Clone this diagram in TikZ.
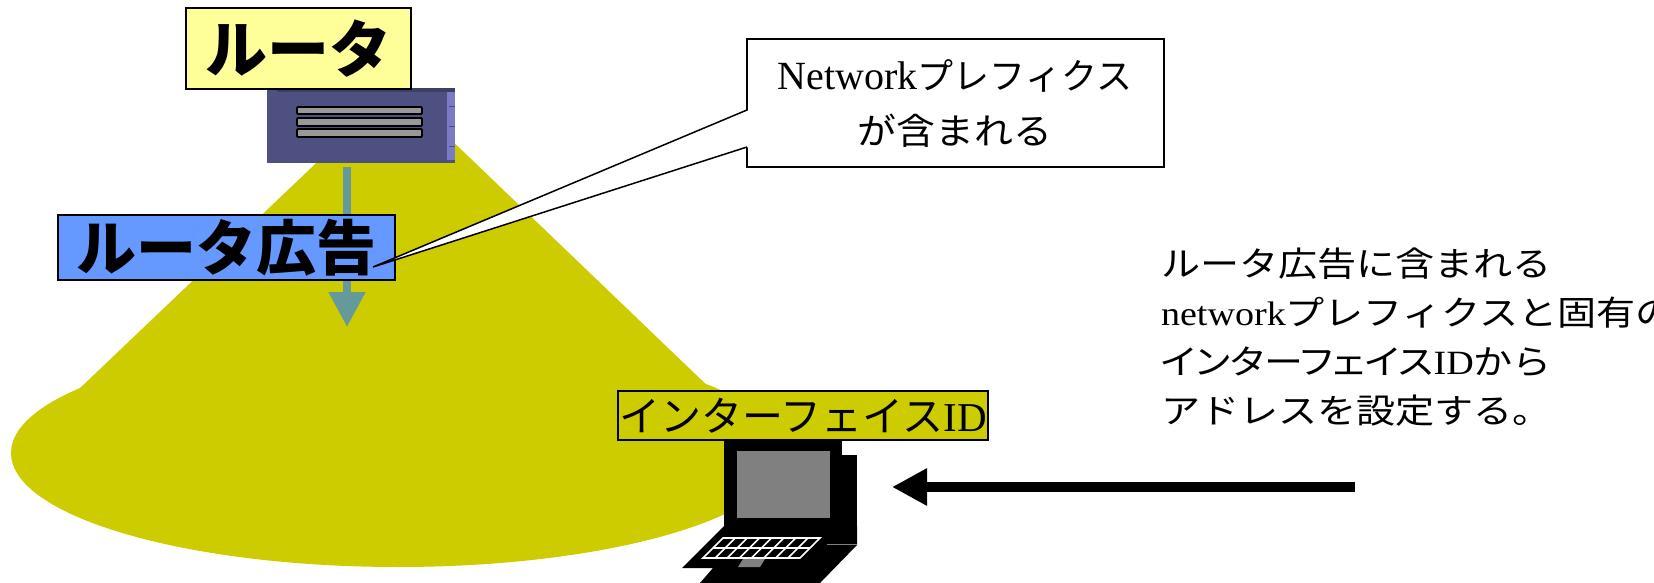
\documentclass[tikz,border=0pt]{standalone}
\usepackage{fontspec}
\usetikzlibrary{arrows.meta}
% Japanese gothic and Times-like Latin, with widened variants
\newfontfamily\jp{Noto Sans CJK JP}
\newfontfamily\jpm[FakeStretch=1.08]{Noto Sans CJK JP}
\newfontfamily\jpw[FakeStretch=1.15]{Noto Sans CJK JP}
\newfontfamily\jpp[FakeStretch=1.15,RawFeature=+palt]{Noto Sans CJK JP}
\newfontfamily\tm{Liberation Serif}
\newfontfamily\tmw[FakeStretch=1.12]{Liberation Serif}

\definecolor{conecol}{HTML}{CCCC00}
\definecolor{arrowteal}{HTML}{669999}
\definecolor{routerbody}{HTML}{4D5080}
\definecolor{routertop}{HTML}{3C3F66}
\definecolor{routerside}{HTML}{7B7BC4}
\definecolor{slotgray}{HTML}{999999}
\definecolor{labelyellow}{HTML}{FFFF99}
\definecolor{advblue}{HTML}{6699FF}
\definecolor{screengray}{HTML}{808080}

\tikzset{
  labelbox/.style={draw=black, line width=1pt, inner sep=0pt},
  plaintext/.style={inner sep=0pt, outer sep=0pt},
  righttext/.style={plaintext, anchor=base west, font=\fontsize{17pt}{17pt}\selectfont},
  callouttext/.style={plaintext, anchor=base, font=\fontsize{18pt}{18pt}\selectfont},
  slot/.style={draw=black, line width=0.9pt, fill=slotgray, rounded corners=0.5pt},
}

\begin{document}
\begin{tikzpicture}[x=0.5pt, y=-0.5pt]
\useasboundingbox (0,0) rectangle (1654,583);
\clip (0,0) rectangle (1654,583);

% coverage area of the router advertisement
\fill[conecol] (396,87) -- (78,390) -- (714,392) -- cycle;
\fill[conecol] (398,453) ellipse [x radius=193.5pt, y radius=57pt];

% advertisement direction arrow
\coordinate (advtop) at (347,167);
\coordinate (advtip) at (347,327);
\draw[arrowteal, line width=4pt, -{Triangle[length=17.5pt,width=17.5pt]}] (advtop) -- (advtip);

% router device
\node[fill=routerbody, minimum width=94pt, minimum height=37.5pt, inner sep=0pt] (router) at (361,125.5) {};
\fill[routertop] (277,88) rectangle (455,92);
\fill[routerside] (447,92) rectangle (455,160);
\foreach \yy in {107,127,147} \draw[routerbody, line width=0.5pt] (449,\yy) -- (455,\yy);
\draw[slot] (297,107) rectangle (422,114);
\draw[slot] (297,118) rectangle (422,126);
\draw[slot] (297,129) rectangle (422,137);

% title of the router
\node[labelbox, fill=labelyellow, minimum width=112.5pt, minimum height=40.5pt,
      font=\jp\bfseries\fontsize{31pt}{31pt}\selectfont] (rtitle) at (298.5,48.5) {ルータ};

% router advertisement label
\node[labelbox, fill=advblue, minimum width=168.5pt, minimum height=32.5pt,
      font=\jp\bfseries\fontsize{30pt}{30pt}\selectfont] (adv) at (226.5,247.5) {ルータ広告};

% callout with its tail
\node[draw=black, line width=0.75pt, fill=white, minimum width=208.5pt, minimum height=64pt, inner sep=0pt] (callout) at (955.5,103) {};
\coordinate (tailA) at (747,110);
\coordinate (tailB) at (747,147);
\coordinate (tailtip) at (373,267);
\fill[white] ([xshift=1pt]tailA) -- (tailtip) -- ([xshift=1pt]tailB) -- cycle;
\draw[line width=0.75pt, line join=miter] (tailA) -- (tailtip) -- (tailB);
\node[callouttext] (calloutA) at (955,90) {{\fontsize{20pt}{20pt}\selectfont\tm Network}{\jp プレフィクス}};
\node[callouttext] (calloutB) at (955,145) {\jpm が含まれる};

% interface ID label
\node[draw=black, line width=0.75pt, inner sep=0pt, fill=conecol, minimum width=185pt, minimum height=24.5pt,
      font=\fontsize{20.5pt}{20.5pt}\selectfont] (ifid) at (803,415.5) {{\jp インターフェイス}{\tm ID}};

% laptop
\fill[black] (724,440) rectangle (842,530);
\fill[black] (842,455) rectangle (857,545);
\fill[black] (724,526) -- (857,526) -- (857,545) -- (820,583) -- (700,583) -- (713,568) -- (682,568) -- cycle;
\fill[screengray] (737,451) rectangle (830,518);
\draw[screengray, line width=0.5pt] (827,544) -- (857,544);
\draw[white, line width=0.8pt] (723,538) -- (820,538) -- (800,558) -- (703,558) -- cycle;
\draw[white, line width=0.8pt] (713,548) -- (810,548);
\foreach \i in {1,...,7} \draw[white, line width=0.8pt] (723+\i*12.125,538) -- (703+\i*12.125,558);
\fill[screengray] (743,559) -- (765,559) -- (760,567) -- (738,567) -- cycle;

% arrow towards the laptop
\coordinate (arrowstart) at (1355,487);
\coordinate (arrowend) at (892,487);
\draw[line width=4.75pt, -{Triangle[length=17.5pt,width=17.5pt]}] (arrowstart) -- (arrowend);

% explanation
\node[righttext] (exA) at (1161,276) {\jpw ルータ広告に含まれる};
\node[righttext] (exB) at (1161,325) {{\tmw network}{\jpw プレフィクスと固有の}};
\node[righttext] (exC) at (1161,374) {{\jpp インターフェイス}{\tmw ID}{\jpw から}};
\node[righttext] (exD) at (1161,423) {\jpw アドレスを設定する。};
\end{tikzpicture}
\end{document}
